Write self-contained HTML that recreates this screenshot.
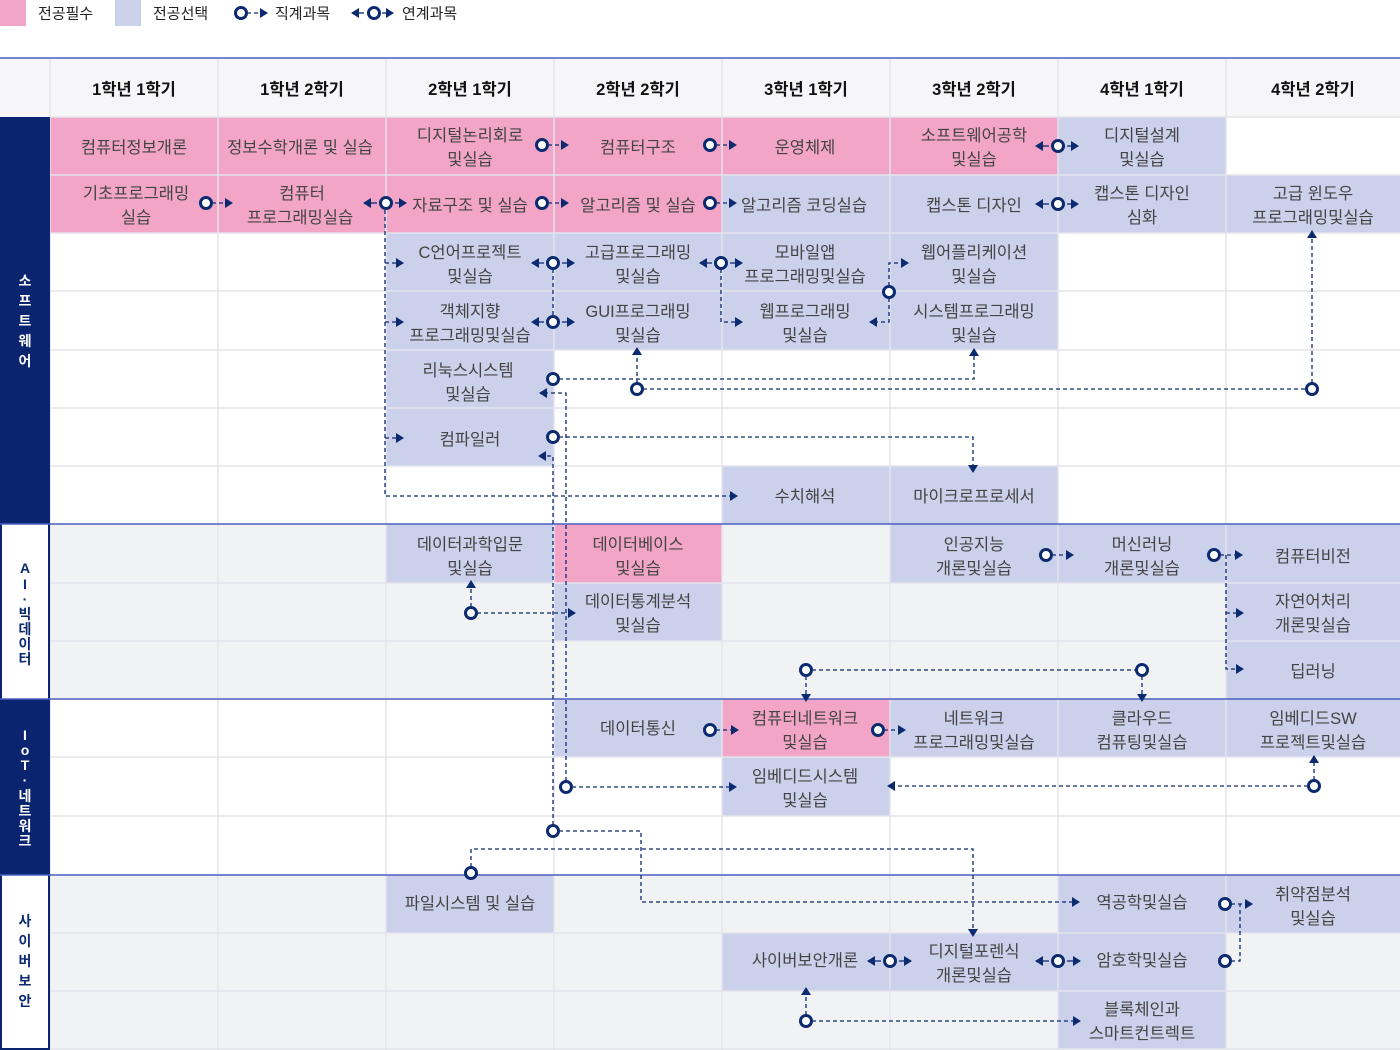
<!DOCTYPE html>
<html><head><meta charset="utf-8"><style>
html,body{margin:0;padding:0;background:#fff;width:1400px;height:1050px;overflow:hidden}
svg{display:block}
text{font-family:"Liberation Sans","Noto Sans CJK KR",sans-serif}
.t{font-size:16.5px;fill:#444;text-anchor:middle;dominant-baseline:central}
.h{font-size:16.5px;fill:#111;font-weight:bold;text-anchor:middle;dominant-baseline:central}
.lg{font-size:15px;fill:#222;dominant-baseline:central}
.d{fill:none;stroke:#0b2a6f;stroke-width:1.3;stroke-dasharray:4 3}
.s{fill:none;stroke:#0b2a6f;stroke-width:1.3}
.c{fill:#fff;stroke:#0b2a6f;stroke-width:3}
.vw{font-size:14px;fill:#fff;font-weight:bold;text-anchor:middle;dominant-baseline:central}
.vn{font-size:14px;fill:#0b2a6f;font-weight:bold;text-anchor:middle;dominant-baseline:central}
</style></head><body>
<svg width="1400" height="1050" viewBox="0 0 1400 1050" xmlns="http://www.w3.org/2000/svg">
<defs>
<marker id="a" markerUnits="userSpaceOnUse" markerWidth="8" markerHeight="10" refX="7" refY="5" orient="auto"><path d="M0,0 L8,5 L0,10 z" fill="#0b2a6f"/></marker>
</defs>
<!-- legend -->
<rect x="0" y="0" width="26" height="26" fill="#f2a5c6"/>
<text class="lg" x="38" y="14">전공필수</text>
<rect x="115" y="0" width="26" height="26" fill="#cbd0eb"/>
<text class="lg" x="153" y="14">전공선택</text>
<path class="d" d="M247,13 H267" marker-end="url(#a)"/>
<circle class="c" cx="241" cy="13" r="5.5"/>
<text class="lg" x="275" y="14">직계과목</text>
<path class="s" d="M364,13 H352" marker-end="url(#a)"/>
<path class="s" d="M382,13 H393" marker-end="url(#a)"/>
<circle class="c" cx="374" cy="13" r="5.5"/>
<text class="lg" x="402" y="14">연계과목</text>

<!-- backgrounds -->
<rect x="0" y="58" width="1400" height="59" fill="#f6f6f8"/>
<rect x="50" y="524" width="1350" height="175" fill="#f1f2f4"/>
<rect x="50" y="875" width="1350" height="175" fill="#f1f2f4"/>

<g fill="#f2a5c6">
<rect x="50" y="117" width="672" height="58"/>
<rect x="722" y="117" width="336" height="58"/>
<rect x="50" y="175" width="672" height="58"/>
<rect x="554" y="524" width="168" height="59"/>
<rect x="722" y="699" width="168" height="58"/>
</g>
<g fill="#cbd0eb">
<rect x="1058" y="117" width="168" height="58"/>
<rect x="722" y="175" width="678" height="58"/>
<rect x="386" y="233" width="672" height="117"/>
<rect x="386" y="350" width="168" height="116"/>
<rect x="722" y="466" width="336" height="58"/>
<rect x="386" y="524" width="168" height="59"/>
<rect x="890" y="524" width="510" height="59"/>
<rect x="554" y="583" width="168" height="58"/>
<rect x="1226" y="583" width="174" height="116"/>
<rect x="554" y="699" width="168" height="58"/>
<rect x="890" y="699" width="510" height="58"/>
<rect x="722" y="757" width="168" height="59"/>
<rect x="386" y="875" width="168" height="58"/>
<rect x="1058" y="875" width="342" height="58"/>
<rect x="722" y="933" width="504" height="58"/>
<rect x="1058" y="991" width="168" height="58"/>
</g>

<g stroke="#e3e4ec" stroke-width="1.5">
<line x1="50" y1="58" x2="50" y2="1050"/>
<line x1="218" y1="58" x2="218" y2="1050"/>
<line x1="386" y1="58" x2="386" y2="1050"/>
<line x1="554" y1="58" x2="554" y2="1050"/>
<line x1="722" y1="58" x2="722" y2="1050"/>
<line x1="890" y1="58" x2="890" y2="1050"/>
<line x1="1058" y1="58" x2="1058" y2="1050"/>
<line x1="1226" y1="58" x2="1226" y2="1050"/>
<line x1="50" y1="117" x2="1400" y2="117"/>
<line x1="50" y1="175" x2="1400" y2="175"/>
<line x1="50" y1="233" x2="1400" y2="233"/>
<line x1="50" y1="291" x2="1400" y2="291"/>
<line x1="50" y1="350" x2="1400" y2="350"/>
<line x1="50" y1="408" x2="1400" y2="408"/>
<line x1="50" y1="466" x2="1400" y2="466"/>
<line x1="50" y1="583" x2="1400" y2="583"/>
<line x1="50" y1="641" x2="1400" y2="641"/>
<line x1="50" y1="757" x2="1400" y2="757"/>
<line x1="50" y1="816" x2="1400" y2="816"/>
<line x1="50" y1="933" x2="1400" y2="933"/>
<line x1="50" y1="991" x2="1400" y2="991"/>
<line x1="50" y1="1049" x2="1400" y2="1049"/>
</g>

<rect x="0" y="117" width="50" height="407" fill="#0b2470"/>
<rect x="0" y="699" width="50" height="176" fill="#0b2470"/>
<g stroke="#0b2470" stroke-width="2">
<line x1="1" y1="524" x2="1" y2="1049"/><line x1="49" y1="524" x2="49" y2="1049"/>
<line x1="0" y1="1049" x2="50" y2="1049"/>
</g>
<text class="vw" x="25" y="281">소</text><text class="vw" x="25" y="301">프</text><text class="vw" x="25" y="321">트</text><text class="vw" x="25" y="341">웨</text><text class="vw" x="25" y="361">어</text>
<text class="vw" x="25" y="735">I</text><text class="vw" x="25" y="750">o</text><text class="vw" x="25" y="765">T</text><text class="vw" x="25" y="780">·</text><text class="vw" x="25" y="796">네</text><text class="vw" x="25" y="811">트</text><text class="vw" x="25" y="826">워</text><text class="vw" x="25" y="841">크</text>
<text class="vn" x="25" y="568">A</text><text class="vn" x="25" y="584">I</text><text class="vn" x="25" y="599">·</text><text class="vn" x="25" y="614">빅</text><text class="vn" x="25" y="629">데</text><text class="vn" x="25" y="644">이</text><text class="vn" x="25" y="659">터</text>
<text class="vn" x="25" y="921">사</text><text class="vn" x="25" y="941">이</text><text class="vn" x="25" y="961">버</text><text class="vn" x="25" y="981">보</text><text class="vn" x="25" y="1001">안</text>

<g stroke="#4a5fc1" stroke-width="1.5">
<line x1="0" y1="58" x2="1400" y2="58"/>
<line x1="0" y1="524" x2="1400" y2="524"/>
<line x1="0" y1="699" x2="1400" y2="699"/>
<line x1="0" y1="875" x2="1400" y2="875"/>
</g>

<g transform="translate(0,2)">
<text class="h" x="134" y="88">1학년 1학기</text>
<text class="h" x="302" y="88">1학년 2학기</text>
<text class="h" x="470" y="88">2학년 1학기</text>
<text class="h" x="638" y="88">2학년 2학기</text>
<text class="h" x="806" y="88">3학년 1학기</text>
<text class="h" x="974" y="88">3학년 2학기</text>
<text class="h" x="1142" y="88">4학년 1학기</text>
<text class="h" x="1313" y="88">4학년 2학기</text>

<text class="t" x="134" y="146">컴퓨터정보개론</text>
<text class="t" x="300" y="146">정보수학개론 및 실습</text>
<text class="t" x="470" y="134">디지털논리회로</text><text class="t" x="470" y="158">및실습</text>
<text class="t" x="638" y="146">컴퓨터구조</text>
<text class="t" x="805" y="146">운영체제</text>
<text class="t" x="974" y="134">소프트웨어공학</text><text class="t" x="974" y="158">및실습</text>
<text class="t" x="1142" y="134">디지털설계</text><text class="t" x="1142" y="158">및실습</text>

<text class="t" x="136" y="192">기초프로그래밍</text><text class="t" x="136" y="216">실습</text>
<text class="t" x="302" y="192">컴퓨터</text><text class="t" x="300" y="216">프로그래밍실습</text>
<text class="t" x="470" y="204">자료구조 및 실습</text>
<text class="t" x="638" y="204">알고리즘 및 실습</text>
<text class="t" x="804" y="204">알고리즘 코딩실습</text>
<text class="t" x="974" y="204">캡스톤 디자인</text>
<text class="t" x="1142" y="192">캡스톤 디자인</text><text class="t" x="1142" y="216">심화</text>
<text class="t" x="1313" y="192">고급 윈도우</text><text class="t" x="1313" y="216">프로그래밍및실습</text>

<text class="t" x="470" y="251">C언어프로젝트</text><text class="t" x="470" y="275">및실습</text>
<text class="t" x="638" y="251">고급프로그래밍</text><text class="t" x="638" y="275">및실습</text>
<text class="t" x="805" y="251">모바일앱</text><text class="t" x="805" y="275">프로그래밍및실습</text>
<text class="t" x="974" y="251">웹어플리케이션</text><text class="t" x="974" y="275">및실습</text>

<text class="t" x="470" y="310">객체지향</text><text class="t" x="470" y="334">프로그래밍및실습</text>
<text class="t" x="638" y="310">GUI프로그래밍</text><text class="t" x="638" y="334">및실습</text>
<text class="t" x="805" y="310">웹프로그래밍</text><text class="t" x="805" y="334">및실습</text>
<text class="t" x="974" y="310">시스템프로그래밍</text><text class="t" x="974" y="334">및실습</text>

<text class="t" x="468" y="369">리눅스시스템</text><text class="t" x="468" y="393">및실습</text>
<text class="t" x="470" y="438">컴파일러</text>
<text class="t" x="805" y="495">수치해석</text>
<text class="t" x="974" y="495">마이크로프로세서</text>

<text class="t" x="470" y="543">데이터과학입문</text><text class="t" x="470" y="567">및실습</text>
<text class="t" x="638" y="543">데이터베이스</text><text class="t" x="638" y="567">및실습</text>
<text class="t" x="974" y="543">인공지능</text><text class="t" x="974" y="567">개론및실습</text>
<text class="t" x="1142" y="543">머신러닝</text><text class="t" x="1142" y="567">개론및실습</text>
<text class="t" x="1313" y="555">컴퓨터비전</text>
<text class="t" x="638" y="600">데이터통계분석</text><text class="t" x="638" y="624">및실습</text>
<text class="t" x="1313" y="600">자연어처리</text><text class="t" x="1313" y="624">개론및실습</text>
<text class="t" x="1313" y="670">딥러닝</text>

<text class="t" x="638" y="727">데이터통신</text>
<text class="t" x="805" y="717">컴퓨터네트워크</text><text class="t" x="805" y="741">및실습</text>
<text class="t" x="974" y="717">네트워크</text><text class="t" x="974" y="741">프로그래밍및실습</text>
<text class="t" x="1142" y="717">클라우드</text><text class="t" x="1142" y="741">컴퓨팅및실습</text>
<text class="t" x="1313" y="717">임베디드SW</text><text class="t" x="1313" y="741">프로젝트및실습</text>
<text class="t" x="805" y="775">임베디드시스템</text><text class="t" x="805" y="799">및실습</text>

<text class="t" x="470" y="902">파일시스템 및 실습</text>
<text class="t" x="1142" y="901">역공학및실습</text>
<text class="t" x="1313" y="893">취약점분석</text><text class="t" x="1313" y="917">및실습</text>
<text class="t" x="805" y="959">사이버보안개론</text>
<text class="t" x="974" y="950">디지털포렌식</text><text class="t" x="974" y="974">개론및실습</text>
<text class="t" x="1142" y="959">암호학및실습</text>
<text class="t" x="1142" y="1008">블록체인과</text><text class="t" x="1142" y="1032">스마트컨트렉트</text>
</g>

<g>
<path class="d" d="M548,145 H568" marker-end="url(#a)"/>
<path class="d" d="M716,145 H736" marker-end="url(#a)"/>
<path class="s" d="M1049,146 H1036" marker-end="url(#a)"/><path class="s" d="M1067,146 H1078" marker-end="url(#a)"/>
<path class="d" d="M212,203 H232" marker-end="url(#a)"/>
<path class="s" d="M377,203 H364" marker-end="url(#a)"/><path class="s" d="M395,203 H406" marker-end="url(#a)"/>
<path class="d" d="M548,203 H568" marker-end="url(#a)"/>
<path class="d" d="M716,203 H736" marker-end="url(#a)"/>
<path class="s" d="M1049,204 H1036" marker-end="url(#a)"/><path class="s" d="M1067,204 H1078" marker-end="url(#a)"/>

<path class="d" d="M385,210 V496 H737" marker-end="url(#a)"/>
<path class="d" d="M385,263 H403" marker-end="url(#a)"/>
<path class="d" d="M385,322 H403" marker-end="url(#a)"/>
<path class="d" d="M385,438 H403" marker-end="url(#a)"/>

<path class="d" d="M553,269 V315"/>
<path class="s" d="M544,263 H532" marker-end="url(#a)"/><path class="s" d="M562,263 H574" marker-end="url(#a)"/>
<path class="s" d="M544,322 H532" marker-end="url(#a)"/><path class="s" d="M562,322 H574" marker-end="url(#a)"/>
<path class="d" d="M721,269 V322 H742" marker-end="url(#a)"/>
<path class="s" d="M712,263 H700" marker-end="url(#a)"/><path class="s" d="M730,263 H742" marker-end="url(#a)"/>
<path class="d" d="M889,286 V263 H908" marker-end="url(#a)"/>
<path class="d" d="M889,298 V322 H870" marker-end="url(#a)"/>

<path class="d" d="M559,379 H974 V349" marker-end="url(#a)"/>
<path class="d" d="M637,383 V348" marker-end="url(#a)"/>
<path class="d" d="M643,389 H1306"/>
<path class="d" d="M1312,383 V231" marker-end="url(#a)"/>
<path class="d" d="M566,781 V393 H540" marker-end="url(#a)"/>
<path class="d" d="M559,437 H973 V472" marker-end="url(#a)"/>
<path class="d" d="M553,825 V456 H539" marker-end="url(#a)"/>

<path class="d" d="M471,607 V581" marker-end="url(#a)"/>
<path class="d" d="M477,613 H575" marker-end="url(#a)"/>
<path class="d" d="M1052,555 H1073" marker-end="url(#a)"/>
<path class="d" d="M1220,555 H1242" marker-end="url(#a)"/>
<path class="d" d="M1226,555 V669 H1243" marker-end="url(#a)"/>
<path class="d" d="M1226,613 H1243" marker-end="url(#a)"/>
<path class="d" d="M812,670 H1136"/>
<path class="d" d="M806,676 V701" marker-end="url(#a)"/>
<path class="d" d="M1142,676 V701" marker-end="url(#a)"/>

<path class="d" d="M716,730 H738" marker-end="url(#a)"/>
<path class="d" d="M884,730 H905" marker-end="url(#a)"/>
<path class="d" d="M572,787 H736" marker-end="url(#a)"/>
<path class="d" d="M1314,780 V756" marker-end="url(#a)"/>
<path class="d" d="M1308,786 H888" marker-end="url(#a)"/>

<path class="d" d="M559,831 H641 V902 H1079" marker-end="url(#a)"/>
<path class="d" d="M471,867 V849 H973 V936" marker-end="url(#a)"/>
<path class="d" d="M1231,904 H1252" marker-end="url(#a)"/>
<path class="d" d="M1231,961 H1240 V904"/>
<path class="s" d="M881,961 H868" marker-end="url(#a)"/><path class="s" d="M899,961 H911" marker-end="url(#a)"/>
<path class="s" d="M1049,961 H1036" marker-end="url(#a)"/><path class="s" d="M1067,961 H1080" marker-end="url(#a)"/>
<path class="d" d="M806,1015 V988" marker-end="url(#a)"/>
<path class="d" d="M812,1021 H1080" marker-end="url(#a)"/>
</g>

<g>
<circle class="c" cx="542" cy="145" r="5.5"/>
<circle class="c" cx="710" cy="145" r="5.5"/>
<circle class="c" cx="1058" cy="146" r="5.5"/>
<circle class="c" cx="206" cy="203" r="5.5"/>
<circle class="c" cx="386" cy="203" r="5.5"/>
<circle class="c" cx="542" cy="203" r="5.5"/>
<circle class="c" cx="710" cy="203" r="5.5"/>
<circle class="c" cx="1058" cy="204" r="5.5"/>
<circle class="c" cx="553" cy="263" r="5.5"/>
<circle class="c" cx="553" cy="322" r="5.5"/>
<circle class="c" cx="721" cy="263" r="5.5"/>
<circle class="c" cx="889" cy="292" r="5.5"/>
<circle class="c" cx="553" cy="379" r="5.5"/>
<circle class="c" cx="637" cy="389" r="5.5"/>
<circle class="c" cx="1312" cy="389" r="5.5"/>
<circle class="c" cx="553" cy="437" r="5.5"/>
<circle class="c" cx="471" cy="613" r="5.5"/>
<circle class="c" cx="1046" cy="555" r="5.5"/>
<circle class="c" cx="1214" cy="555" r="5.5"/>
<circle class="c" cx="806" cy="670" r="5.5"/>
<circle class="c" cx="1142" cy="670" r="5.5"/>
<circle class="c" cx="710" cy="730" r="5.5"/>
<circle class="c" cx="878" cy="730" r="5.5"/>
<circle class="c" cx="566" cy="787" r="5.5"/>
<circle class="c" cx="1314" cy="786" r="5.5"/>
<circle class="c" cx="553" cy="831" r="5.5"/>
<circle class="c" cx="471" cy="873" r="5.5"/>
<circle class="c" cx="1225" cy="904" r="5.5"/>
<circle class="c" cx="1225" cy="961" r="5.5"/>
<circle class="c" cx="890" cy="961" r="5.5"/>
<circle class="c" cx="1058" cy="961" r="5.5"/>
<circle class="c" cx="806" cy="1021" r="5.5"/>
</g>
</svg>
</body></html>
